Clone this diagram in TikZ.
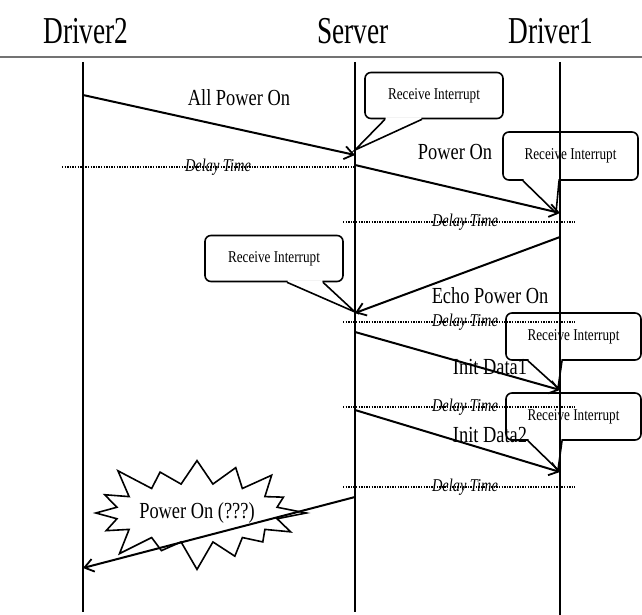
\documentclass[tikz,border=0pt]{standalone}
\usepackage{fontspec}
\setmainfont{Liberation Serif}[FakeStretch=0.8]
\newfontfamily\headfont{Liberation Serif}[FakeStretch=0.72]
\usetikzlibrary{arrows.meta,shapes.symbols}

\begin{document}
\begin{tikzpicture}[
  x=1pt, y=-1pt,
  actor/.style={font=\headfont\fontsize{38}{42}\selectfont, inner sep=0pt},
  life/.style={line width=1.5pt},
  msg/.style={line width=2pt, -{Straight Barb[length=9pt,width=13pt,line width=1.8pt]}},
  lbl/.style={font=\fontsize{23}{26}\selectfont, inner sep=0pt},
  delay/.style={line width=1.6pt, dash pattern=on 1.3pt off 1.3pt},
  dlbl/.style={font=\fontsize{18}{20}\selectfont\itshape, inner sep=0pt},
  intbox/.style={draw, fill=white, line width=1.6pt, rounded corners=6pt,
               minimum width=138pt, minimum height=46pt,
               inner sep=0pt, font=\fontsize{16.5}{18}\selectfont},
  ptr/.style={draw, line width=1.6pt, line join=miter},
  gap/.style={fill=white, draw=white, line width=0.6pt},
  burst/.style={starburst, draw, fill=white, line width=1.6pt, starburst points=16,
                starburst point height=32pt, minimum width=185pt, minimum height=123pt,
                inner sep=0pt, font=\fontsize{23}{26}\selectfont},
]
\useasboundingbox (0,0) rectangle (642,615);

%% --- Header: actors ---
\node[actor] (drv2)   at ( 86,31) {Driver2};
\node[actor] (server) at (353,31) {Server};
\node[actor] (drv1)   at (551,31) {Driver1};
\coordinate (hl) at (0,57);
\coordinate (hr) at (642,57);
\draw[line width=1.5pt, black!55] (hl) -- (hr);

%% --- Lifeline end points ---
\coordinate (D2t) at ( 83,62);  \coordinate (D2b) at ( 83,612);
\coordinate (St)  at (355,62);  \coordinate (Sb)  at (355,612);
\coordinate (D1t) at (560,62);  \coordinate (D1b) at (560,615);

%% --- Message end points ---
\coordinate (a1) at ( 83, 95);  \coordinate (a2) at (355,155);
\coordinate (b1) at (355,165);  \coordinate (b2) at (560,213);
\coordinate (c1) at (560,237);  \coordinate (c2) at (355,313);
\coordinate (d1) at (355,332);  \coordinate (d2) at (560,390);
\coordinate (e1) at (355,410);  \coordinate (e2) at (560,472);
\coordinate (f1) at (355,497);  \coordinate (f2) at ( 83,568);

%% --- Interrupt boxes (drawn first, lines pass over them) ---
\node[intbox] (int1) at (434,95.5) {Receive Interrupt};
\node[intbox, minimum width=135pt, minimum height=48pt] (int2) at (570.5,156) {Receive Interrupt};
\node[intbox] (int3) at (274,258.5) {Receive Interrupt};
\node[intbox, minimum width=135pt, minimum height=47pt] (int4) at (573.5,336.5) {Receive Interrupt};
\node[intbox, minimum width=135pt, minimum height=47pt] (int5) at (573.5,416.5) {Receive Interrupt};

%% --- Pointer tips of the boxes ---
\coordinate (t1) at (355,150);
\coordinate (t2) at (556,213);
\coordinate (t3) at (355,312);
\coordinate (t4) at (558,388);
\coordinate (t5) at (558,470);
\path[gap] ([xshift=-48pt,yshift=2pt]int1.south) -- ([xshift=-48pt,yshift=-1.5pt]int1.south) -- (t1)
  -- ([xshift=-13pt,yshift=-1.5pt]int1.south) -- ([xshift=-13pt,yshift=2pt]int1.south) -- cycle;
\draw[ptr] ([xshift=-49pt]int1.south) -- (t1) -- ([xshift=-12pt]int1.south);
\path[gap] ([xshift=-46.5pt,yshift=2pt]int2.south) -- ([xshift=-46.5pt,yshift=-1.5pt]int2.south) -- (t2)
  -- ([xshift=-12.5pt,yshift=-1.5pt]int2.south) -- ([xshift=-12.5pt,yshift=2pt]int2.south) -- cycle;
\draw[ptr] ([xshift=-47.5pt]int2.south) -- (t2) -- ([xshift=-11.5pt]int2.south);
\path[gap] ([xshift=14pt,yshift=2pt]int3.south) -- ([xshift=14pt,yshift=-1.5pt]int3.south) -- (t3)
  -- ([xshift=48pt,yshift=-1.5pt]int3.south) -- ([xshift=48pt,yshift=2pt]int3.south) -- cycle;
\draw[ptr] ([xshift=13pt]int3.south) -- (t3) -- ([xshift=49pt]int3.south);
\path[gap] ([xshift=-44.5pt,yshift=2pt]int4.south) -- ([xshift=-44.5pt,yshift=-1.5pt]int4.south) -- (t4)
  -- ([xshift=-12.5pt,yshift=-1.5pt]int4.south) -- ([xshift=-12.5pt,yshift=2pt]int4.south) -- cycle;
\draw[ptr] ([xshift=-45.5pt]int4.south) -- (t4) -- ([xshift=-11.5pt]int4.south);
\path[gap] ([xshift=-44.5pt,yshift=2pt]int5.south) -- ([xshift=-44.5pt,yshift=-1.5pt]int5.south) -- (t5)
  -- ([xshift=-12.5pt,yshift=-1.5pt]int5.south) -- ([xshift=-12.5pt,yshift=2pt]int5.south) -- cycle;
\draw[ptr] ([xshift=-45.5pt]int5.south) -- (t5) -- ([xshift=-11.5pt]int5.south);

%% --- The burst ---
\node[burst] (pwr) at (197,513) {Power On (???)};

%% --- Lifelines ---
\draw[life] (D2t) -- (D2b);
\draw[life] (St)  -- (Sb);
\draw[life] (D1t) -- (D1b);

%% --- Delay marks ---
\coordinate (w1a) at ( 62,167);  \coordinate (w1b) at (355,167);
\coordinate (w2a) at (343,222);  \coordinate (w2b) at (575,222);
\coordinate (w3a) at (343,322);  \coordinate (w3b) at (575,322);
\coordinate (w4a) at (343,407);  \coordinate (w4b) at (575,407);
\coordinate (w5a) at (343,487);  \coordinate (w5b) at (575,487);
\draw[delay] (w1a) -- (w1b);
\draw[delay] (w2a) -- (w2b);
\draw[delay] (w3a) -- (w3b);
\draw[delay] (w4a) -- (w4b);
\draw[delay] (w5a) -- (w5b);
\node[dlbl] (dt1) at (218,167) {Delay Time};
\node[dlbl] (dt2) at (465,222) {Delay Time};
\node[dlbl] (dt3) at (465,322) {Delay Time};
\node[dlbl] (dt4) at (465,407) {Delay Time};
\node[dlbl] (dt5) at (465,487) {Delay Time};

%% --- Messages ---
\draw[msg] (a1) -- (a2);
\draw[msg] (b1) -- (b2);
\draw[msg] (c1) -- (c2);
\draw[msg] (d1) -- (d2);
\draw[msg] (e1) -- (e2);
\draw[msg] (f1) -- (f2);
\node[lbl] (m1) at (239, 98) {All Power On};
\node[lbl] (m2) at (455,152) {Power On};
\node[lbl] (m3) at (490,296) {Echo Power On};
\node[lbl] (m4) at (490,367) {Init Data1};
\node[lbl] (m5) at (490,435) {Init Data2};

\end{tikzpicture}
\end{document}
